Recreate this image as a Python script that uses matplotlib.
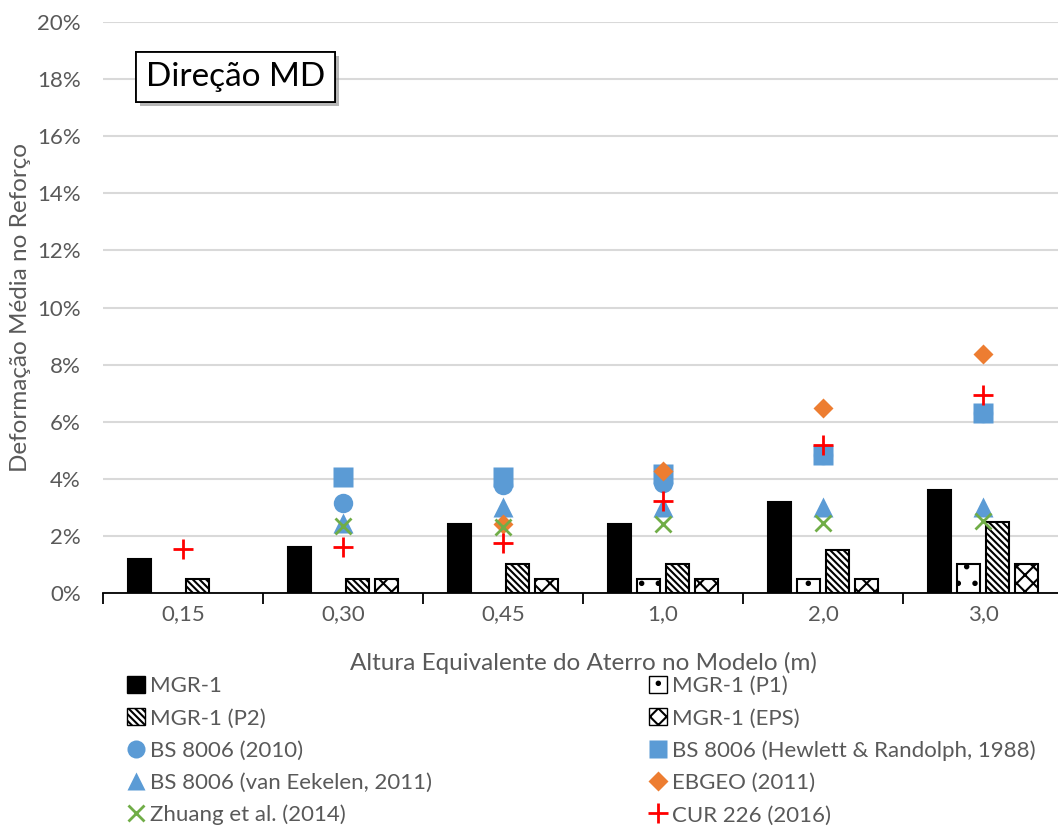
import numpy as np
import matplotlib
matplotlib.use("Agg")
import matplotlib.pyplot as plt
import matplotlib.patheffects as pe
from matplotlib.patches import Patch
from matplotlib.lines import Line2D
from matplotlib.ticker import FuncFormatter, FixedLocator

nan = np.nan
categories = ['0,15', '0,30', '0,45', '1,0', '2,0', '3,0']
mgr1 = [1.2, 1.6, 2.4, 2.4, 3.2, 3.6]
mgr1_p1 = [nan, nan, nan, 0.5, 0.5, 1.0]
mgr1_p2 = [0.5, 0.5, 1.0, 1.0, 1.5, 2.5]
mgr1_eps = [nan, 0.5, 0.5, 0.5, 0.5, 1.0]
bs2010 = [nan, 3.15, 3.8, 3.85, 4.83, 6.3]
bs_hewlett = [nan, 4.05, 4.05, 4.17, 4.83, 6.3]
bs_eekelen = [nan, 2.45, 3.0, 3.0, 3.0, 3.0]
ebgeo = [nan, nan, 2.4, 4.27, 6.48, 8.37]
zhuang = [nan, 2.35, 2.3, 2.4, 2.45, 2.52]
cur226 = [1.55, 1.6, 1.75, 3.22, 5.18, 6.93]

plt.rcParams['font.family'] = ['Lato', 'DejaVu Sans']
plt.rcParams['hatch.linewidth'] = 1.5
GRAY = '#595959'

fig = plt.figure(figsize=(10.58, 8.27), dpi=100)
ax = fig.add_axes([103/1058, 1-593/827, 1-103/1058, (593-22)/827])

x = np.arange(len(categories))
step = 29/160
width = 23/160
H_P1, H_P2, H_EPS = '.', '\\\\\\\\\\', 'xx'
bar_specs = [
    (mgr1, 'black', None),
    (mgr1_p1, 'white', H_P1),
    (mgr1_p2, 'white', H_P2),
    (mgr1_eps, 'white', H_EPS),
]
offsets = [-1.5, -0.5, 0.5, 1.5]
for (vals, fc, hatch), off in zip(bar_specs, offsets):
    ax.bar(x + off*step, vals, width=width, color=fc, edgecolor='black',
           linewidth=1.5, hatch=hatch, zorder=2)

ax.plot(x, bs2010, 'o', color='#5B9BD5', ms=14, mec='none', zorder=3)
ax.plot(x, bs_hewlett, 's', color='#5B9BD5', ms=14, mec='none', zorder=3)
ax.plot(x, bs_eekelen, '^', color='#5B9BD5', ms=14, mec='none', zorder=4)
ax.plot(x, ebgeo, 'D', color='#ED7D31', ms=10.5, mec='none', zorder=5)
ax.plot(x, zhuang, 'x', color='#70AD47', ms=11, mew=2, zorder=6)
ax.plot(x, cur226, '+', color='#FF0000', ms=15, mew=2, zorder=7)

ax.set_ylim(0, 20)
ax.set_xlim(-0.5, 5.5 - 5/160)
ax.set_yticks(np.arange(0, 21, 2))
ax.yaxis.set_major_formatter(FuncFormatter(lambda v, p: f'{int(v)}%'))
ax.set_xticks(x)
ax.set_xticklabels(categories)
ax.xaxis.set_minor_locator(FixedLocator(np.arange(-0.5, 6, 1)))
ax.tick_params(axis='x', which='major', length=0, pad=8, labelsize=16, labelcolor=GRAY)
ax.tick_params(axis='x', which='minor', length=8, width=1.3, color='black')
ax.tick_params(axis='y', length=0, pad=16, labelsize=16, labelcolor=GRAY)
ax.grid(axis='y', color='#D9D9D9', lw=1.5, zorder=0)
ax.set_axisbelow(True)
for s in ['top', 'right', 'left']:
    ax.spines[s].set_visible(False)
ax.spines['bottom'].set_linewidth(1.3)
ax.spines['bottom'].set_zorder(8)

ax.set_xlabel('Altura Equivalente do Aterro no Modelo (m)', fontsize=17.5, color=GRAY)
ax.xaxis.set_label_coords(0.503, (593-652)/571)
ax.set_ylabel('Deformação Média no Reforço', fontsize=17.5, color=GRAY)
ax.yaxis.set_label_coords((31-103)/955, 0.5)

t = ax.text(0.045, (593-77)/571, 'Direção MD', transform=ax.transAxes, fontsize=24,
            color='black', va='center', ha='left',
            bbox=dict(boxstyle='square,pad=0.3', fc='white', ec='black', lw=1.3))
t.get_bbox_patch().set_path_effects([pe.withSimplePatchShadow(offset=(3, -3), shadow_rgbFace='#888888', alpha=0.6), pe.Normal()])

hl = [
    Patch(fc='black', ec='black', label='MGR-1'),
    Patch(fc='white', ec='black', hatch=H_P2, label='MGR-1 (P2)'),
    Line2D([], [], ls='none', marker='o', color='#5B9BD5', ms=13, mec='none', label='BS 8006 (2010)'),
    Line2D([], [], ls='none', marker='^', color='#5B9BD5', ms=13, mec='none', label='BS 8006 (van Eekelen, 2011)'),
    Line2D([], [], ls='none', marker='x', color='#70AD47', ms=11, mew=2, label='Zhuang et al. (2014)'),
]
hr = [
    Patch(fc='white', ec='black', hatch=H_P1, label='MGR-1 (P1)'),
    Patch(fc='white', ec='black', hatch=H_EPS, label='MGR-1 (EPS)'),
    Line2D([], [], ls='none', marker='s', color='#5B9BD5', ms=13, mec='none', label='BS 8006 (Hewlett & Randolph, 1988)'),
    Line2D([], [], ls='none', marker='D', color='#ED7D31', ms=10, mec='none', label='EBGEO (2011)'),
    Line2D([], [], ls='none', marker='+', color='#FF0000', ms=14, mew=2, label='CUR 226 (2016)'),
]
kw = dict(frameon=False, fontsize=16, labelcolor=GRAY, handlelength=0.8, handleheight=0.8,
          handletextpad=0.25, labelspacing=0.54, borderpad=0, borderaxespad=0)
leg1 = fig.legend(handles=hl, loc='upper left', bbox_to_anchor=(127/1058, 1-676/827), **kw)
leg2 = fig.legend(handles=hr, loc='upper left', bbox_to_anchor=(649/1058, 1-676/827), **kw)

fig.savefig('out.png', dpi=100)
